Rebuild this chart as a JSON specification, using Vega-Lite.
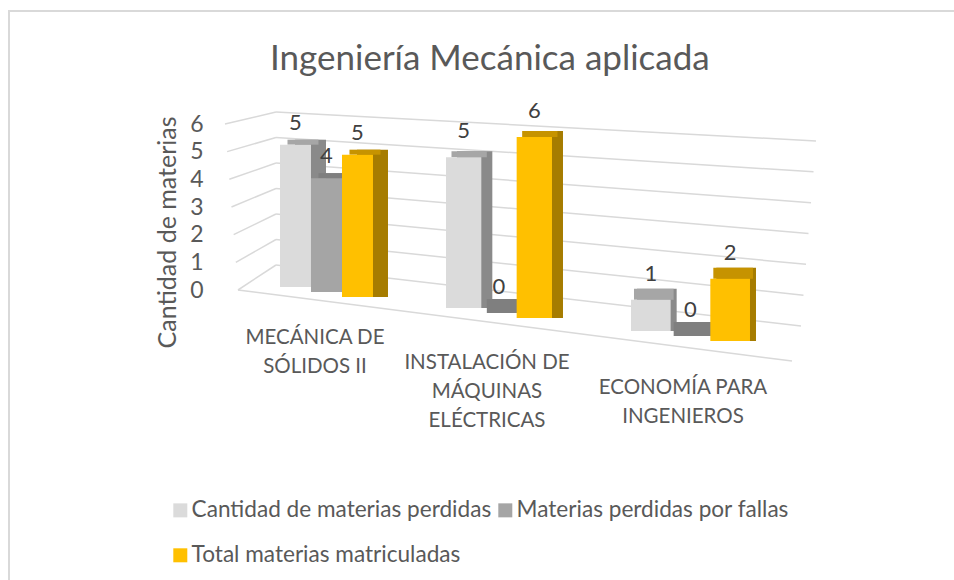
{
"$schema":"https://vega.github.io/schema/vega-lite/v6.json",
"width":948,"height":572,
"autosize":"none",
"padding":{"left":9,"top":11,"right":0,"bottom":0},
"background":"white",
"view":{"stroke":"#d9d9d9","strokeWidth":2,"fill":"white"},
"title":{"text":"Ingeniería Mecánica aplicada","anchor":"start","frame":"group","offset":-66,"dx":261,"font":"Lato","fontSize":35,"fontWeight":"normal","color":"#595959"},
"params":[
{"name":"cats","value":["MECÁNICA DE SÓLIDOS II","INSTALACIÓN DE MÁQUINAS ELÉCTRICAS","ECONOMÍA PARA INGENIEROS"]},
{"name":"series","value":["Cantidad de materias perdidas","Materias perdidas por fallas","Total materias matriculadas"]},
{"name":"floor","value":[2,23,46]},
{"name":"dys","value":[5,6,11]},
{"name":"ks","value":[0.8,2.5,3.5]},
{"name":"tops","value":[-22,-26,-26]}
],
"datasets":{
"grid":[{"nivel":0},{"nivel":1},{"nivel":2},{"nivel":3},{"nivel":4},{"nivel":5},{"nivel":6}],
"ceros":[{"nivel":0}],
"cat":[
{"materia":"MECÁNICA DE SÓLIDOS II","rotulo":"MECÁNICA DE\nSÓLIDOS II"},
{"materia":"INSTALACIÓN DE MÁQUINAS ELÉCTRICAS","rotulo":"INSTALACIÓN DE\nMÁQUINAS\nELÉCTRICAS"},
{"materia":"ECONOMÍA PARA INGENIEROS","rotulo":"ECONOMÍA PARA\nINGENIEROS"}],
"bars":[
{"materia":"MECÁNICA DE SÓLIDOS II","serie":"Cantidad de materias perdidas","valor":5},
{"materia":"MECÁNICA DE SÓLIDOS II","serie":"Materias perdidas por fallas","valor":4},
{"materia":"MECÁNICA DE SÓLIDOS II","serie":"Total materias matriculadas","valor":5},
{"materia":"INSTALACIÓN DE MÁQUINAS ELÉCTRICAS","serie":"Cantidad de materias perdidas","valor":5},
{"materia":"INSTALACIÓN DE MÁQUINAS ELÉCTRICAS","serie":"Materias perdidas por fallas","valor":0},
{"materia":"INSTALACIÓN DE MÁQUINAS ELÉCTRICAS","serie":"Total materias matriculadas","valor":6},
{"materia":"ECONOMÍA PARA INGENIEROS","serie":"Cantidad de materias perdidas","valor":1},
{"materia":"ECONOMÍA PARA INGENIEROS","serie":"Materias perdidas por fallas","valor":0},
{"materia":"ECONOMÍA PARA INGENIEROS","serie":"Total materias matriculadas","valor":2}
]},
"resolve":{"scale":{"x":"independent","y":"independent"},"axis":{"x":"independent","y":"independent"}},
"layer":[
{"data":{"name":"grid"},
 "mark":{"type":"rule","color":"#d9d9d9","strokeWidth":1.5,"y2Offset":{"expr":"61-5.33*datum.nivel"},"x2Offset":{"expr":"2.5*datum.nivel"}},
 "encoding":{
  "x":{"datum":0,"type":"quantitative","scale":{"domain":[0,1],"range":[267,792]},"axis":null},
  "x2":{"datum":1},
  "y":{"field":"nivel","type":"quantitative","scale":{"domain":[0,6],"range":[254,101]},"axis":null},
  "y2":{"field":"nivel"}}},
{"data":{"name":"grid"},
 "mark":{"type":"rule","color":"#d9d9d9","strokeWidth":1.5,"xOffset":{"expr":"-38-2.17*datum.nivel"},"yOffset":{"expr":"25-2.17*datum.nivel"}},
 "encoding":{
  "x":{"datum":0,"type":"quantitative","scale":{"domain":[0,1],"range":[267,792]},"axis":null},
  "x2":{"datum":0},
  "y":{"field":"nivel","type":"quantitative","scale":{"domain":[0,6],"range":[254,101]},"axis":null},
  "y2":{"field":"nivel"}}},
{"data":{"name":"ceros"},
 "mark":{"type":"rule","color":"#d9d9d9","strokeWidth":1.5,"xOffset":-38,"x2Offset":-9,"yOffset":25,"y2Offset":96},
 "encoding":{
  "x":{"datum":0,"type":"quantitative","scale":{"domain":[0,1],"range":[267,792]},"axis":null},
  "x2":{"datum":1},
  "y":{"field":"nivel","type":"quantitative","scale":{"domain":[0,6],"range":[254,101]},"axis":null},
  "y2":{"field":"nivel"}}},
{"data":{"name":"bars"},
 "resolve":{"scale":{"color":"independent","xOffset":"independent"}},
 "encoding":{
  "x":{"field":"materia","type":"nominal","sort":null,"scale":{"domain":["MECÁNICA DE SÓLIDOS II","INSTALACIÓN DE MÁQUINAS ELÉCTRICAS","ECONOMÍA PARA INGENIEROS"],"range":[222,768],"paddingInner":0.423,"paddingOuter":0.2115},"axis":null},
  "y":{"field":"valor","type":"quantitative","scale":{"domain":[0,6],"range":[279,113]},
   "axis":{"title":"Cantidad de materias","orient":"left","offset":-197,"grid":false,"domain":false,"ticks":false,"values":[0,1,2,3,4,5,6],"labelPadding":3,"labelFont":"Lato","labelFontSize":23,"labelColor":"#595959","titleFont":"Lato","titleFontSize":25,"titleFontWeight":"normal","titleColor":"#595959","titleX":-26,"titleY":221,"titleAnchor":"middle"}}},
 "layer":[
 {"transform":[{"filter":"datum.materia==cats[0]"}],
  "resolve":{"scale":{"color":"independent","xOffset":"independent"}},
  "layer":[
  {"mark":{"type":"bar","yOffset":{"expr":"floor[indexof(cats,datum.materia)]+5*(indexof(series,datum.serie)-1)-(datum.valor==0?14:dys[indexof(cats,datum.materia)])-ks[indexof(cats,datum.materia)]*datum.valor"},"y2Offset":{"expr":"floor[indexof(cats,datum.materia)]+5*(indexof(series,datum.serie)-1)"}},
   "encoding":{"y2":{"datum":0},"xOffset":{"field":"serie","type":"nominal","sort":null,"scale":{"domain":["Cantidad de materias perdidas","Materias perdidas por fallas","Total materias matriculadas"],"range":[25.5,118.5]}},
    "color":{"field":"serie","type":"nominal","sort":null,"legend":null,"scale":{"domain":["Cantidad de materias perdidas","Materias perdidas por fallas","Total materias matriculadas"],"range":["#8a8a8a","#7f7f7f","#a67c00"]}}}},
  {"mark":{"type":"bar","yOffset":{"expr":"floor[indexof(cats,datum.materia)]+5*(indexof(series,datum.serie)-1)-(datum.valor==0?14:dys[indexof(cats,datum.materia)])-ks[indexof(cats,datum.materia)]*datum.valor"},"y2Offset":{"expr":"floor[indexof(cats,datum.materia)]+5*(indexof(series,datum.serie)-1)-ks[indexof(cats,datum.materia)]*datum.valor"}},
   "encoding":{"y2":{"field":"valor"},"xOffset":{"field":"serie","type":"nominal","sort":null,"scale":{"domain":["Cantidad de materias perdidas","Materias perdidas por fallas","Total materias matriculadas"],"range":[18,111]}},
    "color":{"field":"serie","type":"nominal","sort":null,"legend":null,"scale":{"domain":["Cantidad de materias perdidas","Materias perdidas por fallas","Total materias matriculadas"],"range":["#a6a6a6","#7f7f7f","#c69300"]}}}},
  {"mark":{"type":"bar","yOffset":{"expr":"floor[indexof(cats,datum.materia)]+5*(indexof(series,datum.serie)-1)-ks[indexof(cats,datum.materia)]*datum.valor"},"y2Offset":{"expr":"floor[indexof(cats,datum.materia)]+5*(indexof(series,datum.serie)-1)"}},
   "encoding":{"y2":{"datum":0},"xOffset":{"field":"serie","type":"nominal","sort":null,"scale":{"domain":["Cantidad de materias perdidas","Materias perdidas por fallas","Total materias matriculadas"],"range":[10.5,103.5]}},
    "color":{"field":"serie","type":"nominal","sort":null,"scale":{"domain":["Cantidad de materias perdidas","Materias perdidas por fallas","Total materias matriculadas"],"range":["#dbdbdb","#a5a5a5","#ffc000"]},
    "legend":{"title":null,"orient":"none","direction":"horizontal","legendX":160,"legendY":488,"columns":2,"columnPadding":2,"rowPadding":22,"padding":0,"symbolType":"square","symbolSize":196,"symbolStrokeWidth":0,"symbolOpacity":1,"labelFont":"Lato","labelFontSize":22.6,"labelColor":"#595959","labelOffset":0,"labelLimit":0}}}},
  {"mark":{"type":"text","font":"Lato","fontSize":22,"color":"#404040","baseline":"middle","yOffset":{"expr":"floor[indexof(cats,datum.materia)]+5*(indexof(series,datum.serie)-1)+tops[indexof(cats,datum.materia)]-ks[indexof(cats,datum.materia)]*datum.valor"}},
   "encoding":{"text":{"field":"valor","type":"quantitative"},"xOffset":{"field":"serie","type":"nominal","sort":null,"scale":{"domain":["Cantidad de materias perdidas","Materias perdidas por fallas","Total materias matriculadas"],"range":[10.5,103.5]}}}}
  ]},
 {"transform":[{"filter":"datum.materia==cats[1]"}],
  "resolve":{"scale":{"color":"independent","xOffset":"independent"}},
  "layer":[
  {"mark":{"type":"bar","yOffset":{"expr":"floor[indexof(cats,datum.materia)]+5*(indexof(series,datum.serie)-1)-(datum.valor==0?14:dys[indexof(cats,datum.materia)])-ks[indexof(cats,datum.materia)]*datum.valor"},"y2Offset":{"expr":"floor[indexof(cats,datum.materia)]+5*(indexof(series,datum.serie)-1)"}},
   "encoding":{"y2":{"datum":0},"xOffset":{"field":"serie","type":"nominal","sort":null,"scale":{"domain":["Cantidad de materias perdidas","Materias perdidas por fallas","Total materias matriculadas"],"range":[5.5,111.5]}},
    "color":{"field":"serie","type":"nominal","sort":null,"legend":null,"scale":{"domain":["Cantidad de materias perdidas","Materias perdidas por fallas","Total materias matriculadas"],"range":["#8a8a8a","#7f7f7f","#a67c00"]}}}},
  {"mark":{"type":"bar","yOffset":{"expr":"floor[indexof(cats,datum.materia)]+5*(indexof(series,datum.serie)-1)-(datum.valor==0?14:dys[indexof(cats,datum.materia)])-ks[indexof(cats,datum.materia)]*datum.valor"},"y2Offset":{"expr":"floor[indexof(cats,datum.materia)]+5*(indexof(series,datum.serie)-1)-ks[indexof(cats,datum.materia)]*datum.valor"}},
   "encoding":{"y2":{"field":"valor"},"xOffset":{"field":"serie","type":"nominal","sort":null,"scale":{"domain":["Cantidad de materias perdidas","Materias perdidas por fallas","Total materias matriculadas"],"range":[0,106]}},
    "color":{"field":"serie","type":"nominal","sort":null,"legend":null,"scale":{"domain":["Cantidad de materias perdidas","Materias perdidas por fallas","Total materias matriculadas"],"range":["#a6a6a6","#7f7f7f","#c69300"]}}}},
  {"mark":{"type":"bar","yOffset":{"expr":"floor[indexof(cats,datum.materia)]+5*(indexof(series,datum.serie)-1)-ks[indexof(cats,datum.materia)]*datum.valor"},"y2Offset":{"expr":"floor[indexof(cats,datum.materia)]+5*(indexof(series,datum.serie)-1)"}},
   "encoding":{"y2":{"datum":0},"xOffset":{"field":"serie","type":"nominal","sort":null,"scale":{"domain":["Cantidad de materias perdidas","Materias perdidas por fallas","Total materias matriculadas"],"range":[-5.5,100.5]}},
    "color":{"field":"serie","type":"nominal","sort":null,"legend":null,"scale":{"domain":["Cantidad de materias perdidas","Materias perdidas por fallas","Total materias matriculadas"],"range":["#dbdbdb","#a5a5a5","#ffc000"]}}}},
  {"mark":{"type":"text","font":"Lato","fontSize":22,"color":"#404040","baseline":"middle","yOffset":{"expr":"floor[indexof(cats,datum.materia)]+5*(indexof(series,datum.serie)-1)+tops[indexof(cats,datum.materia)]-ks[indexof(cats,datum.materia)]*datum.valor"}},
   "encoding":{"text":{"field":"valor","type":"quantitative"},"xOffset":{"field":"serie","type":"nominal","sort":null,"scale":{"domain":["Cantidad de materias perdidas","Materias perdidas por fallas","Total materias matriculadas"],"range":[-5.5,100.5]}}}}
  ]},
 {"transform":[{"filter":"datum.materia==cats[2]"}],
  "resolve":{"scale":{"color":"independent","xOffset":"independent"}},
  "layer":[
  {"mark":{"type":"bar","yOffset":{"expr":"floor[indexof(cats,datum.materia)]+5*(indexof(series,datum.serie)-1)-(datum.valor==0?14:dys[indexof(cats,datum.materia)])-ks[indexof(cats,datum.materia)]*datum.valor"},"y2Offset":{"expr":"floor[indexof(cats,datum.materia)]+5*(indexof(series,datum.serie)-1)"}},
   "encoding":{"y2":{"datum":0},"xOffset":{"field":"serie","type":"nominal","sort":null,"scale":{"domain":["Cantidad de materias perdidas","Materias perdidas por fallas","Total materias matriculadas"],"range":[3.5,122.5]}},
    "color":{"field":"serie","type":"nominal","sort":null,"legend":null,"scale":{"domain":["Cantidad de materias perdidas","Materias perdidas por fallas","Total materias matriculadas"],"range":["#8a8a8a","#7f7f7f","#a67c00"]}}}},
  {"mark":{"type":"bar","yOffset":{"expr":"floor[indexof(cats,datum.materia)]+5*(indexof(series,datum.serie)-1)-(datum.valor==0?14:dys[indexof(cats,datum.materia)])-ks[indexof(cats,datum.materia)]*datum.valor"},"y2Offset":{"expr":"floor[indexof(cats,datum.materia)]+5*(indexof(series,datum.serie)-1)-ks[indexof(cats,datum.materia)]*datum.valor"}},
   "encoding":{"y2":{"field":"valor"},"xOffset":{"field":"serie","type":"nominal","sort":null,"scale":{"domain":["Cantidad de materias perdidas","Materias perdidas por fallas","Total materias matriculadas"],"range":[0.5,119.5]}},
    "color":{"field":"serie","type":"nominal","sort":null,"legend":null,"scale":{"domain":["Cantidad de materias perdidas","Materias perdidas por fallas","Total materias matriculadas"],"range":["#a6a6a6","#7f7f7f","#c69300"]}}}},
  {"mark":{"type":"bar","yOffset":{"expr":"floor[indexof(cats,datum.materia)]+5*(indexof(series,datum.serie)-1)-ks[indexof(cats,datum.materia)]*datum.valor"},"y2Offset":{"expr":"floor[indexof(cats,datum.materia)]+5*(indexof(series,datum.serie)-1)"}},
   "encoding":{"y2":{"datum":0},"xOffset":{"field":"serie","type":"nominal","sort":null,"scale":{"domain":["Cantidad de materias perdidas","Materias perdidas por fallas","Total materias matriculadas"],"range":[-2.5,116.5]}},
    "color":{"field":"serie","type":"nominal","sort":null,"legend":null,"scale":{"domain":["Cantidad de materias perdidas","Materias perdidas por fallas","Total materias matriculadas"],"range":["#dbdbdb","#a5a5a5","#ffc000"]}}}},
  {"mark":{"type":"text","font":"Lato","fontSize":22,"color":"#404040","baseline":"middle","yOffset":{"expr":"floor[indexof(cats,datum.materia)]+5*(indexof(series,datum.serie)-1)+tops[indexof(cats,datum.materia)]-ks[indexof(cats,datum.materia)]*datum.valor"}},
   "encoding":{"text":{"field":"valor","type":"quantitative"},"xOffset":{"field":"serie","type":"nominal","sort":null,"scale":{"domain":["Cantidad de materias perdidas","Materias perdidas por fallas","Total materias matriculadas"],"range":[-2.5,116.5]}}}}
  ]}
 ]},
{"data":{"name":"cat"},
 "mark":{"type":"text","font":"Lato","fontSize":20.5,"color":"#595959","baseline":"top","align":"center","lineBreak":"\n","lineHeight":29,
  "xOffset":{"expr":"[-7,-17,-3][indexof(cats,datum.materia)]"},
  "yOffset":{"expr":"[38,63,88][indexof(cats,datum.materia)]"}},
 "encoding":{
  "x":{"field":"materia","type":"nominal","sort":null,"scale":{"domain":["MECÁNICA DE SÓLIDOS II","INSTALACIÓN DE MÁQUINAS ELÉCTRICAS","ECONOMÍA PARA INGENIEROS"],"range":[222,768],"paddingInner":0.423,"paddingOuter":0.2115},"axis":null},
  "y":{"datum":0,"type":"quantitative","scale":{"domain":[0,6],"range":[279,113]},"axis":null},
  "text":{"field":"rotulo"}}}
]
}
